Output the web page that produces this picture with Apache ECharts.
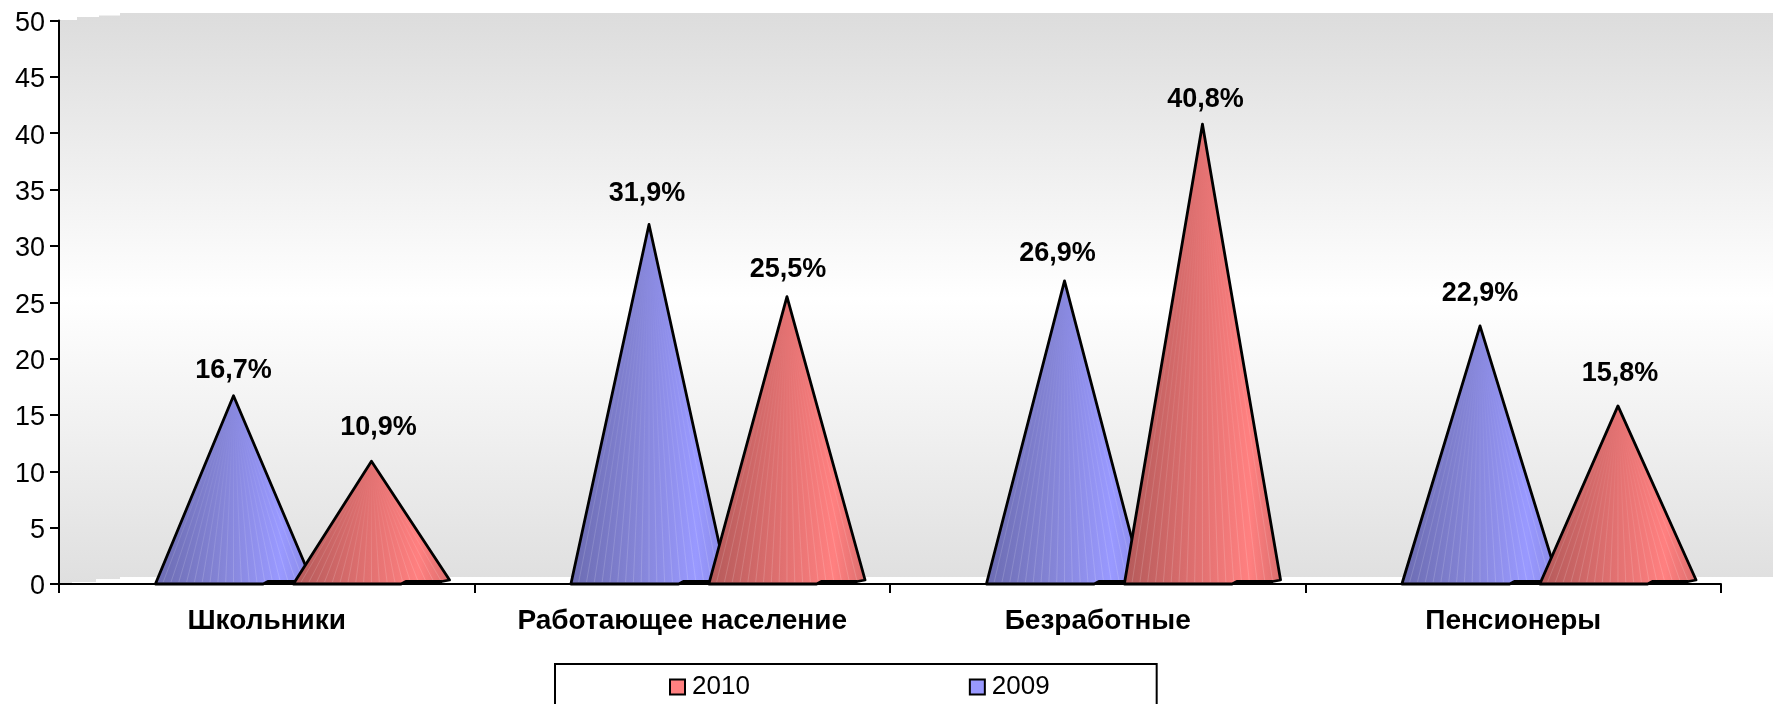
<!DOCTYPE html>
<html><head><meta charset="utf-8">
<style>html,body{margin:0;padding:0;background:#fff}#c{width:1773px;height:704px}</style>
<script src="https://cdn.jsdelivr.net/npm/echarts@6/dist/echarts.min.js"></script>
</head><body><div id="c"></div>
<script>
const categories = ['Школьники', 'Работающее население', 'Безработные', 'Пенсионеры'];
const values2009 = [16.7, 31.9, 26.9, 22.9];
const values2010 = [10.9, 25.5, 40.8, 15.8];
const yTicks = { min: 0, max: 50, interval: 5 };

// hand placement of the value labels relative to each cone tip: [dx, gap above tip]
const labelNudge2009 = [[0, 25], [-2, 31], [-7, 27], [0, 32]];
const labelNudge2010 = [[7, 34], [1, 27], [3, 25], [2, 32]];

const FONT = '"Liberation Sans", Arial, sans-serif';
const blueStops = ['#6c6cb2', '#8484d6', '#9999ff', '#8a8ae6'];
const redStops = ['#b45a5a', '#dc6e6e', '#ff8080', '#dc6e6e'];

function coneRenderer(offsetFrac, stops, nudges) {
  return function (params, api) {
    const idx = api.value(0), val = api.value(1);
    const top = api.coord([idx, val]);
    const zero = api.coord([idx, 0]);
    const band = api.size([1, 0])[0];
    const cx = top[0] + band * offsetFrac;
    const hw = band * 0.188;
    const L = cx - hw, W = hw * 2, y0 = zero[1], ty = top[1];
    const outline = [
      [cx, ty], [L + W * 1.0, y0 - 4], [L + W * 0.95, y0 - 2.5], [L + W * 0.72, y0 - 2.5],
      [L + W * 0.69, y0], [L, y0]
    ];
    const children = [{
      type: 'polygon',
      shape: { points: outline },
      style: {
        fill: new echarts.graphic.LinearGradient(0, 0, 1, 0, [
          { offset: 0, color: stops[0] }, { offset: 0.42, color: stops[1] },
          { offset: 0.8, color: stops[2] }, { offset: 1, color: stops[3] }
        ]),
        stroke: 'none'
      }
    }];
    // faint facet lines of the cone surface, fading in from the tip
    for (let i = 1; i < 20; i++) {
      const f = i / 20, s = 0.1;
      const y1 = ty + (y0 - ty) * s, y2 = y0 - 2;
      children.push({
        type: 'line',
        shape: { x1: cx + (L + W * f - cx) * s, y1: y1, x2: L + W * f, y2: y2 },
        style: {
          stroke: new echarts.graphic.LinearGradient(0, y1, 0, y2, [
            { offset: 0, color: 'rgba(255,255,255,0)' },
            { offset: 0.5, color: 'rgba(255,255,255,0.08)' },
            { offset: 1, color: 'rgba(255,255,255,0.16)' }
          ], true),
          lineWidth: 1
        }
      });
    }
    children.push({
      type: 'polygon',
      shape: { points: outline },
      style: { fill: 'none', stroke: '#000', lineWidth: 2.8, lineJoin: 'round' }
    });
    const n = nudges[params.dataIndex];
    children.push({
      type: 'text',
      style: {
        x: cx + n[0], y: ty - n[1],
        text: val.toFixed(1).replace('.', ',') + '%',
        font: 'bold 27px ' + FONT,
        fill: '#000', align: 'center', verticalAlign: 'middle'
      }
    });
    return { type: 'group', children };
  };
}

const chart = echarts.init(document.getElementById('c'), null, { renderer: 'canvas' });
chart.setOption({
  animation: false,
  backgroundColor: '#fff',
  textStyle: { fontFamily: FONT },
  grid: { left: 59, right: 52, top: 20.5, bottom: 120 },
  graphic: [{
    type: 'polygon',
    z: -1,
    silent: true,
    shape: { points: [
      [60, 20], [77, 20], [77, 17], [99, 17], [99, 15.5], [120, 15.5], [120, 13], [1773, 13],
      [1773, 577], [120, 577], [120, 579], [96, 579], [96, 582], [72, 582], [72, 584], [60, 584]
    ] },
    style: {
      fill: new echarts.graphic.LinearGradient(0, 0, 0, 1, [
        { offset: 0, color: '#dcdcdc' }, { offset: 0.5, color: '#ffffff' }, { offset: 1, color: '#dfdfdf' }
      ])
    }
  }],
  legend: {
    data: ['2010', '2009'],
    left: 555, top: 664,
    orient: 'horizontal',
    padding: [10, 107, 60, 114],
    itemGap: 219, itemWidth: 15, itemHeight: 15,
    borderColor: '#000', borderWidth: 2, backgroundColor: '#fff',
    icon: 'rect',
    textStyle: { fontSize: 26, color: '#000', fontFamily: FONT, padding: [0, 0, 0, 2] },
    selectedMode: false
  },
  xAxis: {
    type: 'category',
    data: categories,
    boundaryGap: true,
    axisLine: { lineStyle: { color: '#000', width: 2 } },
    axisTick: { show: true, length: 9, alignWithLabel: false, lineStyle: { color: '#000', width: 2 } },
    axisLabel: { color: '#000', fontSize: 28, fontWeight: 'bold', margin: 23, fontFamily: FONT, interval: 0 },
    splitLine: { show: false }
  },
  yAxis: {
    type: 'value',
    min: yTicks.min, max: yTicks.max, interval: yTicks.interval,
    axisLine: { show: true, lineStyle: { color: '#000', width: 2 } },
    axisTick: { show: true, length: 9, lineStyle: { color: '#000', width: 2 } },
    axisLabel: { color: '#000', fontSize: 27, margin: 14, fontFamily: FONT, verticalAlign: 'top', lineHeight: 6 },
    splitLine: { show: false }
  },
  series: [
    {
      name: '2009', type: 'custom', coordinateSystem: 'cartesian2d', clip: false,
      itemStyle: { color: '#9999ff', borderColor: '#000', borderWidth: 1 },
      encode: { x: 0, y: 1 },
      renderItem: coneRenderer(-0.08, blueStops, labelNudge2009),
      data: values2009.map((v, i) => [i, v])
    },
    {
      name: '2010', type: 'custom', coordinateSystem: 'cartesian2d', clip: false,
      itemStyle: { color: '#ff8080', borderColor: '#000', borderWidth: 1 },
      encode: { x: 0, y: 1 },
      renderItem: coneRenderer(0.252, redStops, labelNudge2010),
      data: values2010.map((v, i) => [i, v])
    }
  ]
});
</script>
</body></html>
